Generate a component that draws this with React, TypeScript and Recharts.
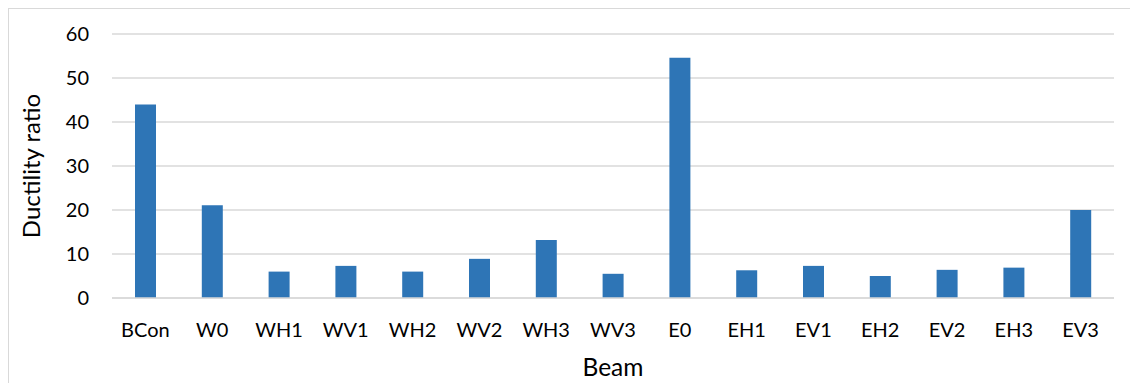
import { BarChart, Bar, XAxis, YAxis, CartesianGrid } from "recharts"

// Ductility ratio per beam specimen
const beams = ["BCon", "W0", "WH1", "WV1", "WH2", "WV2", "WH3", "WV3", "E0", "EH1", "EV1", "EH2", "EV2", "EH3", "EV3"]
const ductility = [44, 21.1, 6.0, 7.3, 6.0, 8.9, 13.2, 5.5, 54.6, 6.3, 7.3, 5.0, 6.4, 6.9, 20]
const yTicks = [0, 10, 20, 30, 40, 50, 60]

const data = beams.map((name, i) => ({ name, ratio: ductility[i] }))

const font = "Lato, 'Noto Sans', sans-serif"

export default function App() {
  return (
    <div
      style={{
        width: 1140,
        height: 390,
        border: "1px solid #d9d9d9",
        background: "#fff",
        fontFamily: font,
      }}
    >
      <BarChart width={1140} height={380} data={data} margin={{ top: 25, right: 35, left: 0, bottom: 0 }}>
        <CartesianGrid vertical={false} stroke="#d9d9d9" strokeWidth={1.3} />
        <XAxis
          dataKey="name"
          height={91}
          tickLine={false}
          tickMargin={19}
          axisLine={{ stroke: "#d9d9d9", strokeWidth: 1.3 }}
          tick={{ fill: "#000", fontSize: 20, fontFamily: font }}
          interval={0}
          label={{ value: "Beam", position: "insideBottom", offset: 13, fill: "#000", fontSize: 24.5, fontFamily: font }}
        />
        <YAxis
          width={103}
          domain={[0, 60]}
          ticks={yTicks}
          tickLine={false}
          axisLine={false}
          tickMargin={17}
          tick={{ fill: "#000", fontSize: 20, fontFamily: font }}
          label={{
            value: "Ductility ratio",
            angle: -90,
            position: "center",
            dx: -29,
            fill: "#000",
            fontSize: 24,
            fontFamily: font,
          }}
        />
        <Bar dataKey="ratio" fill="#2e75b6" barSize={21} isAnimationActive={false} />
      </BarChart>
    </div>
  )
}
